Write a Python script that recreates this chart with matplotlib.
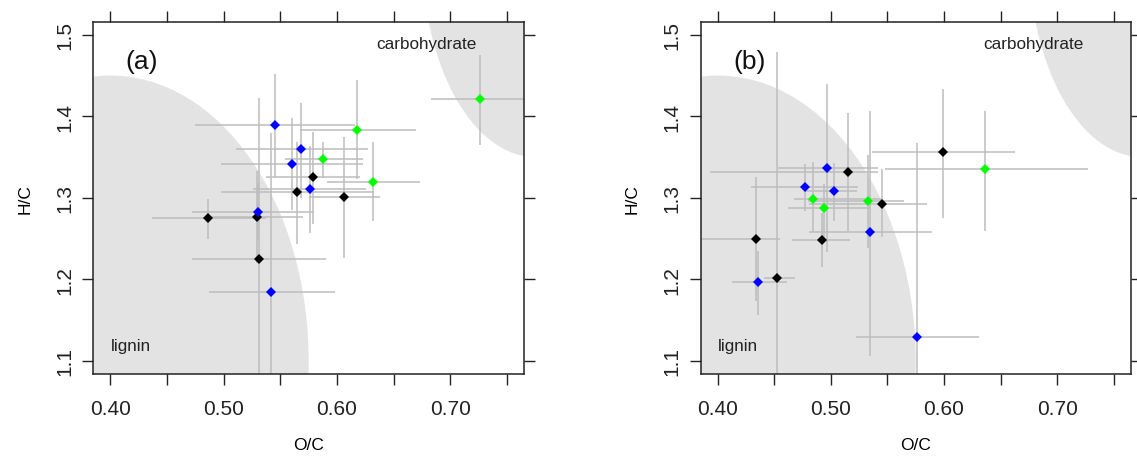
import matplotlib
matplotlib.use("Agg")
import matplotlib.pyplot as plt
from matplotlib.patches import Ellipse
import numpy as np

plt.rcParams['font.family'] = ['Liberation Sans', 'DejaVu Sans']

# ---------------- data ----------------
group_colors = ['#000000', '#0000FF', '#00FF00']

# panel (a)
a_oc    = [0.579, 0.565, 0.606, 0.529, 0.486, 0.531,
           0.545, 0.568, 0.560, 0.576, 0.530, 0.542,
           0.618, 0.588, 0.632, 0.726]
a_hc    = [1.325, 1.307, 1.301, 1.276, 1.275, 1.225,
           1.389, 1.360, 1.342, 1.311, 1.283, 1.184,
           1.383, 1.348, 1.320, 1.421]
a_oc_lo = [0.537, 0.498, 0.575, 0.487, 0.437, 0.472,
           0.475, 0.511, 0.498, 0.526, 0.472, 0.487,
           0.567, 0.554, 0.591, 0.683]
a_oc_hi = [0.620, 0.633, 0.638, 0.570, 0.537, 0.590,
           0.616, 0.627, 0.623, 0.626, 0.580, 0.598,
           0.670, 0.623, 0.673, 0.770]
a_hc_lo = [1.268, 1.244, 1.226, 1.220, 1.250, 1.030,
           1.325, 1.300, 1.285, 1.257, 1.250, 0.988,
           1.323, 1.324, 1.271, 1.365]
a_hc_hi = [1.381, 1.368, 1.374, 1.333, 1.298, 1.422,
           1.452, 1.416, 1.398, 1.364, 1.318, 1.380,
           1.444, 1.369, 1.368, 1.475]
a_grp   = [0, 0, 0, 0, 0, 0, 1, 1, 1, 1, 1, 1, 2, 2, 2, 2]

# panel (b)
b_oc    = [0.599, 0.515, 0.545, 0.434, 0.492, 0.452,
           0.497, 0.477, 0.503, 0.535, 0.436, 0.576,
           0.636, 0.484, 0.533, 0.494]
b_hc    = [1.356, 1.332, 1.293, 1.250, 1.248, 1.202,
           1.336, 1.313, 1.308, 1.258, 1.197, 1.129,
           1.335, 1.298, 1.296, 1.288]
b_oc_lo = [0.536, 0.393, 0.481, 0.380, 0.466, 0.441,
           0.453, 0.429, 0.477, 0.481, 0.413, 0.522,
           0.548, 0.4675, 0.480, 0.462]
b_oc_hi = [0.663, 0.542, 0.585, 0.455, 0.517, 0.468,
           0.542, 0.524, 0.523, 0.589, 0.461, 0.631,
           0.727, 0.544, 0.565, 0.535]
b_hc_lo = [1.275, 1.259, 1.252, 1.174, 1.215, 0.925,
           1.234, 1.284, 1.272, 1.106, 1.156, 0.890,
           1.259, 1.258, 1.239, 1.249]
b_hc_hi = [1.434, 1.404, 1.335, 1.326, 1.282, 1.479,
           1.439, 1.342, 1.343, 1.407, 1.235, 1.367,
           1.407, 1.344, 1.353, 1.317]
b_grp   = [0, 0, 0, 0, 0, 0, 1, 1, 1, 1, 1, 1, 2, 2, 2, 2]

x_ticks = [0.40, 0.45, 0.50, 0.55, 0.60, 0.65, 0.70, 0.75]
x_ticklabels = ['0.40', '', '0.50', '', '0.60', '', '0.70', '']
y_ticks = [1.1, 1.2, 1.3, 1.4, 1.5]
y_ticklabels = ['1.1', '1.2', '1.3', '1.4', '1.5']

# Van Krevelen regions (centre, full width, full height)
lignin_region = ((0.40, 1.10), 0.35, 0.70)
carb_region = ((0.775, 1.60), 0.20, 0.50)

XLIM = (0.385, 0.765)
YLIM = (1.084, 1.516)

# ---------------- figure ----------------
fig = plt.figure(figsize=(11.37, 4.60), dpi=100)
ax_a = fig.add_axes([0.0821, 0.1848, 0.3788, 0.7659])
ax_b = fig.add_axes([0.6163, 0.1848, 0.3782, 0.7659])


def draw_panel(ax, oc, hc, oc_lo, oc_hi, hc_lo, hc_hi, grp, tag):
    ax.set_xlim(*XLIM)
    ax.set_ylim(*YLIM)
    for (c, w, h) in (lignin_region, carb_region):
        ax.add_patch(Ellipse(c, w, h, facecolor='#e3e3e3', edgecolor='none', zorder=0))
    oc = np.array(oc); hc = np.array(hc)
    xerr = np.vstack([oc - np.array(oc_lo), np.array(oc_hi) - oc])
    yerr = np.vstack([hc - np.array(hc_lo), np.array(hc_hi) - hc])
    ax.errorbar(oc, hc, xerr=xerr, yerr=yerr, fmt='none', ecolor='#bdbdbd',
                elinewidth=1.1, capsize=0, zorder=2)
    cols = [group_colors[g] for g in grp]
    for x, y, c in zip(oc, hc, cols):
        ax.plot([x], [y], marker='D', markersize=5.0, color=c, markeredgewidth=0,
                linestyle='none', zorder=3)
    ax.set_xticks(x_ticks)
    ax.set_xticklabels(x_ticklabels)
    ax.set_yticks(y_ticks)
    ax.set_yticklabels(y_ticklabels, rotation=90, va='center')
    ax.tick_params(axis='both', which='major', direction='out', length=8, width=1.0,
                   top=True, right=True, labelsize=15, colors='#222222')
    ax.tick_params(axis='x', pad=10)
    ax.tick_params(axis='y', pad=6, labelsize=15)
    for sp in ax.spines.values():
        sp.set_linewidth(1.1)
        sp.set_color('#222222')
    ax.set_xlabel('O/C', fontsize=12.5, labelpad=14)
    ax.set_ylabel('H/C', fontsize=12.5, labelpad=16)
    ax.text(0.428, 1.468, tag, fontsize=19, ha='center', va='center', color='#111111')
    ax.text(0.679, 1.489, 'carbohydrate', fontsize=12.3, ha='center', va='center', color='#222222')
    ax.text(0.4005, 1.1195, 'lignin', fontsize=12.3, ha='left', va='center', color='#222222')


draw_panel(ax_a, a_oc, a_hc, a_oc_lo, a_oc_hi, a_hc_lo, a_hc_hi, a_grp, '(a)')
draw_panel(ax_b, b_oc, b_hc, b_oc_lo, b_oc_hi, b_hc_lo, b_hc_hi, b_grp, '(b)')

fig.savefig('out.png', dpi=100)
